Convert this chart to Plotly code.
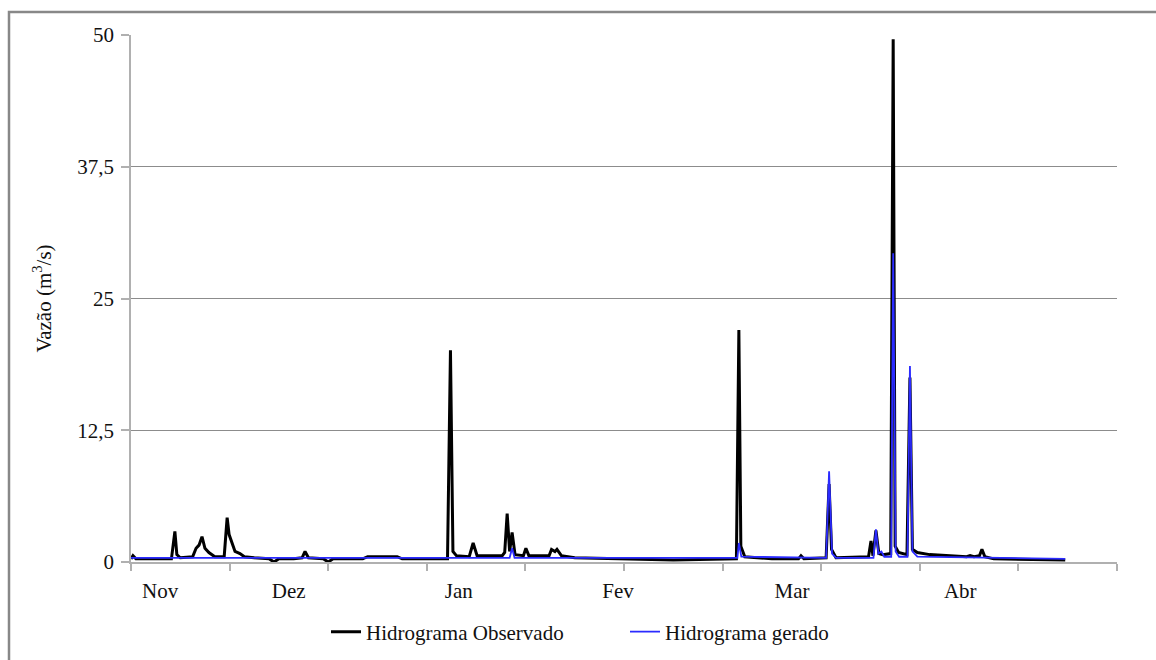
import plotly.graph_objects as go

# x in days along the record (axis spans 0..200), y = discharge (m3/s)
obs_day = [0, 0.4, 1, 8.2, 8.9, 9.3, 10, 12.5, 13.2, 13.8, 14.4, 15, 15.8, 17,
           18.9, 19.5, 19.9, 20.5, 21.1, 22.1, 23, 25, 28, 29, 30, 33, 34.7, 35.3,
           36, 39, 40, 41, 47, 48, 54, 55, 64.2, 64.8, 65.3, 66, 68.6, 69.4, 70.2,
           75.3, 75.8, 76.3, 76.8, 77.3, 77.9, 79.6, 80.1, 80.7, 84.8, 85.3, 86.0,
           86.4, 87.3, 90, 100, 110, 122.8, 123.3, 123.7, 124.5, 130, 135.4, 135.9,
           136.5, 141.0, 141.6, 142.1, 143, 149.6, 150.1, 150.5, 151.1, 151.7, 152.5,
           154.1, 154.6, 155.0, 155.7, 157.4, 158.0, 158.5, 159.5, 162, 165, 169.5,
           170.2, 171, 172.1, 172.6, 173.2, 175, 189.5]
obs_q = [0.3, 0.6, 0.3, 0.3, 2.9, 0.7, 0.4, 0.5, 1.3, 1.6, 2.4, 1.3, 0.9, 0.5,
         0.5, 4.2, 2.6, 1.8, 1.0, 0.8, 0.5, 0.4, 0.3, 0.0, 0.3, 0.3, 0.4, 1.0,
         0.4, 0.3, 0.0, 0.3, 0.3, 0.5, 0.5, 0.3, 0.3, 20.1, 1.0, 0.6, 0.5, 1.8, 0.6,
         0.6, 0.9, 4.6, 1.0, 2.8, 0.7, 0.6, 1.3, 0.6, 0.6, 1.2, 1.0,
         1.2, 0.6, 0.4, 0.3, 0.2, 0.3, 22.0, 1.5, 0.5, 0.3, 0.3, 0.6,
         0.3, 0.4, 7.4, 1.2, 0.4, 0.5, 2.0, 0.6, 3.0, 0.8, 0.7,
         0.8, 49.6, 1.5, 0.9, 0.7, 17.5, 1.2, 0.9, 0.7, 0.6, 0.5,
         0.6, 0.5, 0.6, 1.2, 0.5, 0.3, 0.2]

gen_day = [0, 64.8, 76.8, 77.3, 77.8, 123.0, 123.3, 123.8, 141.0, 141.6, 142.2, 143,
           150.6, 151.1, 151.6, 152.2, 152.8, 154.2, 154.6, 155.1, 155.8, 157.5,
           158.0, 158.5, 159.5, 189.5]
gen_q = [0.4, 0.4, 0.4, 1.3, 0.4, 0.4, 1.8, 0.5, 0.4, 8.6, 0.8, 0.4,
         0.4, 3.1, 0.8, 1.0, 0.5, 0.5, 29.3, 1.0, 0.5, 0.5,
         18.6, 1.0, 0.5, 0.3]

month_pos = [5.9, 32.0, 66.5, 98.8, 134.1, 168.2]
month_lbl = ["Nov", "Dez", "Jan", "Fev", "Mar", "Abr"]
y_ticks = [0, 12.5, 25, 37.5, 50]
y_lbls = ["0", "12,5", "25", "37,5", "50"]

FONT = "Liberation Serif"
FS = 21

fig = go.Figure()
fig.add_trace(go.Scatter(x=obs_day, y=obs_q, mode="lines", name="Hidrograma Observado",
                         line=dict(color="#000000", width=3)))
fig.add_trace(go.Scatter(x=gen_day, y=gen_q, mode="lines", name="Hidrograma gerado",
                         line=dict(color="#2b2bff", width=1.8)))

fig.update_layout(
    width=1156, height=660,
    margin=dict(l=131, r=39, t=35, b=98, autoexpand=False),
    paper_bgcolor="white", plot_bgcolor="white",
    font=dict(family=FONT, size=FS, color="#111"),
    showlegend=True,
    legend=dict(orientation="h", x=(326 - 131) / 986, xanchor="left",
                y=(562 - 632) / 527, yanchor="middle",
                font=dict(family=FONT, size=FS), itemwidth=30,
                entrywidth=254, entrywidthmode="pixels"),
    xaxis=dict(range=[0, 200], tickmode="array", tickvals=month_pos, ticktext=month_lbl,
               ticks="", showgrid=False, zeroline=False,
               showline=True, linecolor="#b0b0b0", linewidth=1.5,
               ticklabelstandoff=9,
               tickfont=dict(family=FONT, size=FS),
               minor=dict(tickmode="linear", tick0=0, dtick=20, ticks="outside",
                          ticklen=7, tickcolor="#b0b0b0", tickwidth=1.5, showgrid=False)),
    yaxis=dict(range=[0, 50], tickmode="array", tickvals=y_ticks, ticktext=y_lbls,
               ticks="outside", ticklen=8, tickcolor="#b0b0b0", tickwidth=1.5,
               showgrid=True, gridcolor="#8c8c8c", gridwidth=1, zeroline=False,
               showline=True, linecolor="#b0b0b0", linewidth=1.5,
               ticklabelstandoff=3,
               tickfont=dict(family=FONT, size=FS),
               title=dict(text="Vazão (m<sup>3</sup>/s)", standoff=20,
                          font=dict(family=FONT, size=FS))),
    shapes=[dict(type="rect", xref="paper", yref="paper",
                 x0=(9 - 131) / 986, x1=(1160 - 131) / 986,
                 y0=(562 - 680) / 527, y1=(562 - 12) / 527,
                 line=dict(color="#888888", width=2.5), fillcolor="rgba(0,0,0,0)",
                 layer="below")],
)

fig.write_html("out.html")
